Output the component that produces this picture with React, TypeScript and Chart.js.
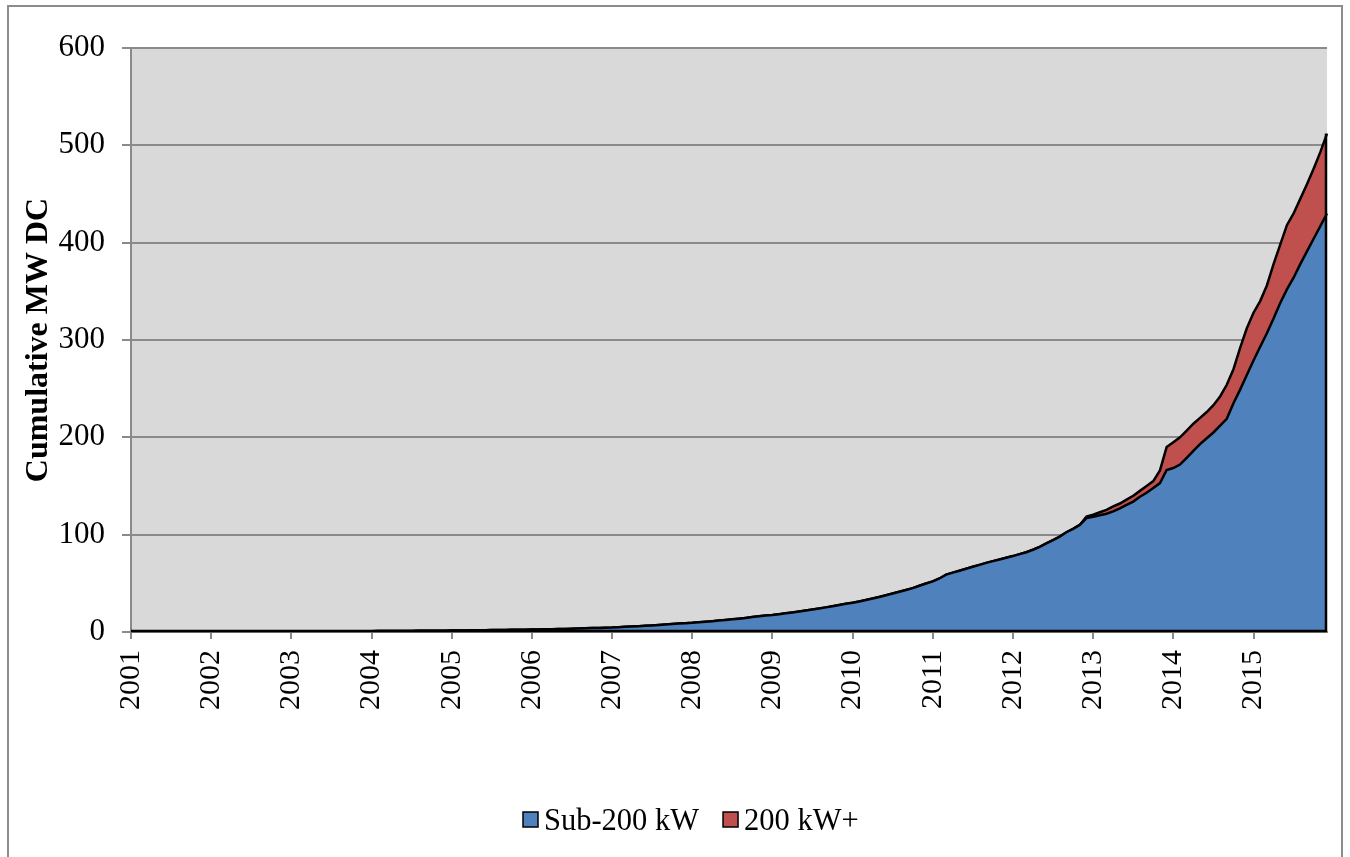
import React, { useEffect, useRef } from 'react';
import { Chart, registerables } from 'chart.js';

Chart.register(...registerables);

const FONT = "'Liberation Serif', 'Times New Roman', serif";

const years = ['2001', '2002', '2003', '2004', '2005', '2006', '2007', '2008', '2009', '2010', '2011', '2012', '2013', '2014', '2015'];
const monthNums = ['01', '02', '03', '04', '05', '06', '07', '08', '09', '10', '11', '12'];
const months = years.flatMap((y) => monthNums.map((m) => `${y}-${m}`));

const seriesNames = ['Sub-200 kW', '200 kW+'];

// Cumulative MW DC, monthly, installations below 200 kW
const sub200 = [
  0.1, 0.1, 0.1, 0.1, 0.1, 0.1, 0.1, 0.2, 0.2, 0.2, 0.2, 0.2,
  0.2, 0.2, 0.3, 0.3, 0.3, 0.3, 0.3, 0.3, 0.4, 0.4, 0.4, 0.4,
  0.4, 0.4, 0.5, 0.5, 0.5, 0.6, 0.6, 0.6, 0.7, 0.7, 0.7, 0.8,
  0.8, 0.9, 0.9, 1.0, 1.0, 1.1, 1.1, 1.2, 1.3, 1.3, 1.4, 1.4,
  1.5, 1.6, 1.6, 1.7, 1.8, 1.9, 2.0, 2.0, 2.1, 2.2, 2.3, 2.4,
  2.5, 2.6, 2.8, 2.9, 3.1, 3.2, 3.4, 3.6, 3.8, 4.0, 4.2, 4.4,
  4.6, 5.0, 5.3, 5.6, 6.0, 6.4, 6.8, 7.2, 7.7, 8.2, 8.7, 9.1,
  9.5, 10.1, 10.6, 11.1, 11.7, 12.3, 13.0, 13.7, 14.5, 15.3, 16.2, 16.9,
  17.5, 18.3, 19.2, 20.1, 21.1, 22.2, 23.2, 24.2, 25.3, 26.5, 27.8, 29.0,
  30.0, 31.4, 32.9, 34.4, 36.0, 37.7, 39.5, 41.3, 43.2, 45.1, 47.5, 49.8,
  52.0, 55.0, 59.0, 61.0, 63.0, 65.0, 67.0, 69.0, 71.0, 72.8, 74.5, 76.3,
  78.0, 80.0, 82.0, 84.5, 87.5, 91.0, 94.5, 98.0, 102.5, 106.0, 110.0, 117.0,
  118.5, 120.0, 121.5, 124.0, 127.0, 130.5, 134.0, 139.0, 143.0, 148.0, 153.0, 166.5,
  168.5, 172.0, 179.0, 186.0, 193.0, 199.0, 205.0, 212.0, 219.0, 235.0, 249.0, 264.0,
  279.0, 293.0, 307.0, 322.0, 338.0, 352.0, 364.0, 378.0, 391.0, 404.0, 417.0, 430.0,
];

// Cumulative MW DC, monthly, installations of 200 kW and above
const over200 = [
  0, 0, 0, 0, 0, 0, 0, 0, 0, 0, 0, 0,
  0, 0, 0, 0, 0, 0, 0, 0, 0, 0, 0, 0,
  0, 0, 0, 0, 0, 0, 0, 0, 0, 0, 0, 0,
  0, 0, 0, 0, 0, 0, 0, 0, 0, 0, 0, 0,
  0, 0, 0, 0, 0, 0, 0, 0, 0, 0, 0, 0,
  0, 0, 0, 0, 0, 0, 0, 0, 0, 0, 0, 0,
  0, 0, 0, 0, 0, 0, 0, 0, 0, 0, 0, 0,
  0, 0, 0, 0, 0, 0, 0, 0, 0, 0, 0, 0,
  0, 0, 0, 0, 0, 0, 0, 0, 0, 0, 0, 0,
  0, 0, 0, 0, 0, 0, 0, 0, 0, 0, 0, 0,
  0, 0, 0, 0, 0, 0, 0, 0, 0, 0, 0, 0,
  0, 0, 0, 0, 0, 0, 0, 0, 0, 0, 0, 1.5,
  2.0, 3.0, 4.0, 5.0, 5.0, 5.5, 6.0, 6.0, 7.0, 7.0, 13.0, 23.5,
  26.5, 28.0, 28.0, 28.0, 27.0, 27.0, 28.0, 30.0, 35.0, 35.0, 43.0, 48.0,
  49.0, 47.0, 49.0, 56.0, 60.0, 66.0, 66.0, 67.0, 69.0, 72.0, 76.0, 82.0,
];

const yTicks = { min: 0, max: 600, step: 100 };

const GRID = '#8a8a8a';
const BLUE = '#4F81BD';
const RED = '#C0504D';

const plotBackground = {
  id: 'plotBackground',
  beforeDraw(chart: any) {
    const { ctx, chartArea } = chart;
    ctx.save();
    ctx.fillStyle = '#D9D9D9';
    ctx.fillRect(chartArea.left, chartArea.top, chartArea.right - chartArea.left, chartArea.bottom - chartArea.top);
    ctx.restore();
  },
};

const areaOutline = {
  id: 'areaOutline',
  afterDatasetsDraw(chart: any) {
    const { ctx } = chart;
    const m0 = chart.getDatasetMeta(0).data;
    const m1 = chart.getDatasetMeta(1).data;
    const y0 = chart.scales.y.getPixelForValue(0);
    const first = m0[0];
    const last1 = m1[m1.length - 1];
    ctx.save();
    ctx.strokeStyle = '#000';
    ctx.lineWidth = 2.5;
    ctx.lineJoin = 'round';
    ctx.beginPath();
    ctx.moveTo(first.x, y0 - 1);
    ctx.lineTo(last1.x - 1, y0 - 1);
    ctx.lineTo(last1.x - 1, last1.y);
    ctx.stroke();
    ctx.restore();
  },
};

const customLegend = {
  id: 'customLegend',
  afterDraw(chart: any) {
    const { ctx } = chart;
    const o = chart.options.plugins.customLegend;
    ctx.save();
    ctx.font = `${o.fontSize}px ${FONT}`;
    ctx.textBaseline = 'alphabetic';
    ctx.textAlign = 'left';
    let x = o.x;
    chart.data.datasets.forEach((ds: any) => {
      ctx.fillStyle = ds.backgroundColor;
      ctx.fillRect(x, o.boxTop, o.box, o.box);
      ctx.lineWidth = 1.5;
      ctx.strokeStyle = '#000';
      ctx.strokeRect(x, o.boxTop, o.box, o.box);
      x += o.box + o.gap;
      ctx.fillStyle = '#000';
      ctx.fillText(ds.label, x, o.baseline);
      x += ctx.measureText(ds.label).width + o.itemGap;
    });
    ctx.restore();
  },
};

export default function App() {
  const ref = useRef<HTMLCanvasElement>(null);

  useEffect(() => {
    if (!ref.current) return;
    const chart = new Chart(ref.current, {
      type: 'line',
      data: {
        labels: months,
        datasets: [
          {
            label: seriesNames[0],
            data: sub200,
            backgroundColor: BLUE,
            borderColor: '#000',
            borderWidth: 2.5,
            pointRadius: 0,
            tension: 0,
            fill: 'origin',
          },
          {
            label: seriesNames[1],
            data: over200,
            backgroundColor: RED,
            borderColor: '#000',
            borderWidth: 2.5,
            pointRadius: 0,
            tension: 0,
            fill: '-1',
          },
        ],
      },
      options: {
        responsive: false,
        animation: false,
        devicePixelRatio: 1,
        layout: { padding: { top: 48, left: 20, right: 23, bottom: 0 } },
        plugins: {
          legend: { display: false },
          tooltip: { enabled: false },
          customLegend: { x: 523, boxTop: 812, box: 15, gap: 6, itemGap: 24, baseline: 830, fontSize: 30.5 },
        } as any,
        scales: {
          x: {
            type: 'category',
            offset: false,
            grid: { drawOnChartArea: false, drawTicks: true, tickLength: 7, color: GRID, lineWidth: 2 },
            border: { display: true, color: GRID, width: 2 },
            ticks: {
              autoSkip: false,
              minRotation: 90,
              maxRotation: 90,
              padding: 11,
              color: '#000',
              font: { family: FONT, size: 30 },
              callback: (v: any) => String(months[v]).slice(0, 4),
            },
            afterBuildTicks: (axis: any) => {
              axis.ticks = axis.ticks.filter((t: any) => t.value % 12 === 0);
            },
            afterFit: (s: any) => {
              s.height = 225;
            },
          },
          y: {
            stacked: true,
            min: yTicks.min,
            max: yTicks.max,
            grid: { color: GRID, lineWidth: 2, drawTicks: true, tickLength: 9 },
            border: { display: true, color: GRID, width: 2 },
            ticks: {
              stepSize: yTicks.step,
              padding: 17,
              color: '#000',
              font: { family: FONT, size: 31 },
            },
            title: {
              display: true,
              text: 'Cumulative MW DC',
              color: '#000',
              font: { family: FONT, size: 32, weight: 'bold' },
              padding: { top: 0, bottom: 0 },
            },
            afterFit: (s: any) => {
              s.width = 111;
            },
          },
        },
      },
      plugins: [plotBackground, areaOutline, customLegend],
    } as any);
    return () => chart.destroy();
  }, []);

  return (
    <div style={{ position: 'absolute', left: 0, top: 0, width: 1350, height: 857, overflow: 'hidden', background: '#fff' }}>
      <div
        style={{
          position: 'absolute',
          left: 7,
          top: 5,
          width: 1336,
          height: 900,
          border: '2px solid #8c8c8c',
          boxSizing: 'border-box',
        }}
      />
      <canvas
        ref={ref}
        width={1350}
        height={857}
        style={{ position: 'absolute', left: 0, top: 0, width: 1350, height: 857 }}
      />
    </div>
  );
}
